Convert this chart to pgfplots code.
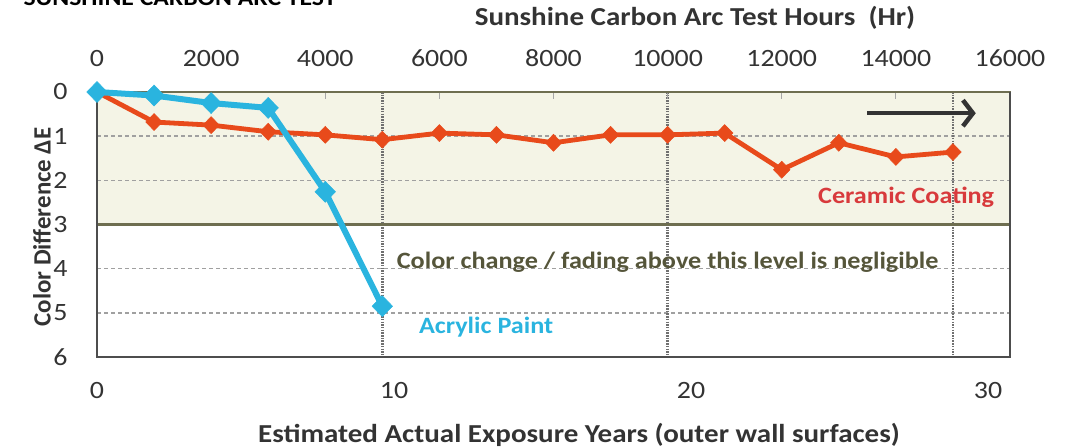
\documentclass[border=0pt]{standalone}
\usepackage{pgfplots}
\pgfplotsset{compat=1.18}
\usepackage{fontspec}
\setmainfont{Carlito}[FakeStretch=1.12]
\newfontfamily\plainfont{Carlito}
\usetikzlibrary{arrows.meta}
\definecolor{ceram}{HTML}{E84A1B}
\definecolor{ceramtxt}{HTML}{D83A3C}
\definecolor{acryl}{HTML}{2AB4DF}
\definecolor{bandfill}{HTML}{F4F4E6}
\definecolor{bandline}{HTML}{6E6E50}
\definecolor{framec}{HTML}{4D4D4D}
\definecolor{gridc}{HTML}{A0A0A0}
\definecolor{vgridc}{HTML}{707070}
\definecolor{notec}{HTML}{55553A}
\definecolor{tickc}{HTML}{333333}
\begin{document}
\begin{tikzpicture}[x=1bp,y=1bp]
\begin{axis}[
  set layers,
  at={(97bp,91bp)}, anchor=south west,
  scale only axis, width=913bp, height=265bp,
  xmin=0, xmax=16000, ymin=0, ymax=6, y dir=reverse,
  axis line style={draw=none},
  xtick={0,2000,...,16000},
  scaled x ticks=false,
  xtick pos=upper, xticklabel pos=upper,
  ytick={0,1,...,6},
  ytick pos=left, yticklabel pos=left,
  tick align=inside,
  major tick length=7bp,
  xtick style={color=gray!70, line width=1.2bp},
  ytick style={draw=none},
  /pgf/number format/1000 sep={},
  /pgf/number format/assume math mode=true,
  ticklabel style={font=\fontsize{25}{29}\selectfont, text=tickc},
  xticklabel style={yshift=22bp},
  yticklabel style={xshift=-26bp},
  ymajorgrids=true,
  major grid style={color=gridc, line width=1.4bp, dash pattern=on 4bp off 3bp},
  extra x ticks={5000,10000,15000},
  extra x tick labels={},
  extra x tick style={grid=major, major tick length=0pt,
     major grid style={color=vgridc, line width=2.4bp, dash pattern=on 1.5bp off 1.2bp}},
  clip=false,
]
\begin{pgfonlayer}{axis background}
\fill[bandfill] (axis cs:0,0) rectangle (axis cs:16000,3);
\end{pgfonlayer}
\draw[bandline, line width=2.6bp] (axis cs:0,0) rectangle (axis cs:16000,3);
\draw[framec, line width=2.6bp] (axis cs:0,0) -- (axis cs:0,6) -- (axis cs:16000,6) -- (axis cs:16000,0);
\addplot[ceram, line width=4.8bp, mark=diamond*, mark size=8.5bp, mark options={solid, xscale=1.3, fill=ceram, draw=ceram, line width=0.5bp}] coordinates {
(0,0) (1000,0.68) (2000,0.75) (3000,0.9) (4000,0.97) (5000,1.08) (6000,0.93) (7000,0.97) (8000,1.15) (9000,0.97) (10000,0.97) (11000,0.93) (12000,1.76) (13000,1.15) (14000,1.47) (15000,1.36)
};
\addplot[acryl, line width=6bp, mark=diamond*, mark size=10.5bp, mark options={solid, xscale=1.3, fill=acryl, draw=acryl, line width=0.5bp}] coordinates {
(0,0) (1000,0.08) (2000,0.25) (3000,0.36) (4000,2.26) (5000,4.85)
};
\draw[gray!40!black, line width=4.5bp, -{Straight Barb[length=10bp,width=26bp,line width=4.5bp]}, shorten >=0pt] (axis cs:13500,0.48) -- (axis cs:15400,0.48);
\node[font=\fontsize{23.5}{27}\selectfont\bfseries, text=ceramtxt] at (axis cs:14180,2.38) {Ceramic Coating};
\node[font=\fontsize{23.5}{27}\selectfont\bfseries, text=notec] at (axis cs:10000,3.85) {Color change / fading above this level is negligible};
\node[font=\fontsize{23.5}{27}\selectfont\bfseries, text=acryl] at (axis cs:6820,5.32) {Acrylic Paint};
\end{axis}
\begin{axis}[
  at={(97bp,91bp)}, anchor=south west,
  scale only axis, width=913bp, height=265bp,
  xmin=0, xmax=30.74, ymin=0, ymax=1,
  axis line style={draw=none},
  xtick={0,10,20,30}, ytick=\empty,
  xtick style={draw=none},
  xtick pos=lower, xticklabel pos=lower,
  ticklabel style={font=\fontsize{25}{29}\selectfont, text=tickc},
  /pgf/number format/assume math mode=true,
  xticklabel style={yshift=-22bp},
]
\addplot[draw=none] coordinates {(0,0)};
\end{axis}
\node[font=\fontsize{26}{30}\selectfont\bfseries, text=tickc] at (695bp,430bp) {Sunshine Carbon Arc Test Hours\ \ (Hr)};
\node[font=\fontsize{26}{30}\selectfont\bfseries, text=tickc] at (579bp,13bp) {Estimated Actual Exposure Years (outer wall surfaces)};
\node[font=\plainfont\fontsize{25}{29}\selectfont\bfseries, text=tickc, rotate=90] at (42bp,221bp) {Color Difference ΔE};
\node[font=\fontsize{23}{26}\selectfont\bfseries, text=black, anchor=base west] at (20bp,442bp) {SUNSHINE CARBON ARC TEST};
\pgfresetboundingbox
\useasboundingbox (0,0) rectangle (1066bp,448bp);
\end{tikzpicture}
\end{document}
